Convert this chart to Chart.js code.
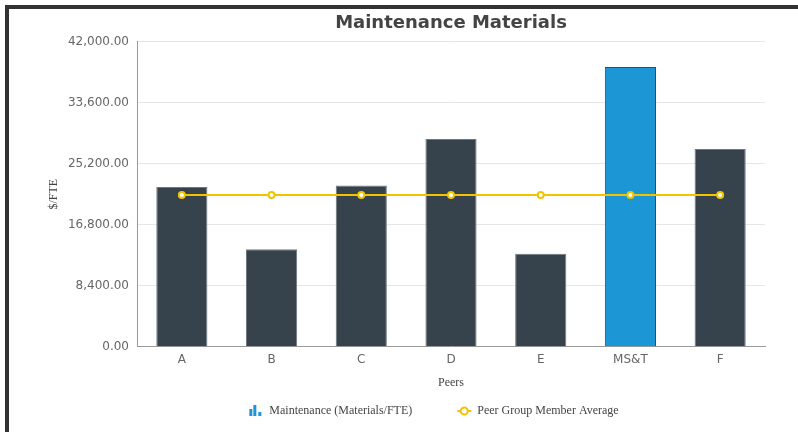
<!DOCTYPE html>
<html>
<head>
<meta charset="utf-8">
<script src="https://cdn.jsdelivr.net/npm/chart.js@4.4.0/dist/chart.umd.min.js"></script>
<style>
  html, body { margin: 0; padding: 0; background: #fff; }
  body { width: 798px; height: 432px; position: relative; overflow: hidden; }
  #moldura { position: absolute; left: 5px; top: 5px; right: 0; bottom: 0;
             border-left: 4px solid #333; border-top: 4px solid #333; }
  #grafico { position: absolute; left: 0; top: 0; }
</style>
</head>
<body>
<div id="moldura"></div>
<canvas id="grafico" width="798" height="432"></canvas>
<script>
const categorias = ['A', 'B', 'C', 'D', 'E', 'MS&T', 'F'];
const valoresManutencao = [22000, 13400, 22200, 28600, 12800, 38500, 27200];
const mediaGrupo = [20900, 20900, 20900, 20900, 20900, 20900, 20900];
const ticksY = [0, 8400, 16800, 25200, 33600, 42000];

const AZUL = '#1c96d4';
const ESCURO = '#36434c';
const AMARELO = '#f2c400';

const fmt = new Intl.NumberFormat('en-US', { minimumFractionDigits: 2, maximumFractionDigits: 2 });

// legenda desenhada à mão (espaçamento igual ao original)
const legendaPersonalizada = {
  id: 'legendaPersonalizada',
  afterDraw(chart) {
    const ctx = chart.ctx;
    const y = 411;
    ctx.save();
    ctx.font = '12px "Liberation Serif", serif';
    ctx.textBaseline = 'middle';
    const itens = chart.data.datasets.map(d => ({ texto: d.label, tipo: d.type }));
    const larg = itens.map(i => 20 + ctx.measureText(i.texto).width);
    const total = larg.reduce((a, b) => a + b, 0) + 45 * (itens.length - 1);
    let x = 434 - total / 2;
    itens.forEach((it, i) => {
      if (it.tipo === 'bar') {
        ctx.fillStyle = AZUL;
        ctx.fillRect(x, y - 2, 3, 7);
        ctx.fillRect(x + 4, y - 6, 3, 11);
        ctx.fillRect(x + 9, y + 1, 3, 4);
      } else {
        ctx.strokeStyle = AMARELO;
        ctx.lineWidth = 2;
        ctx.beginPath();
        ctx.moveTo(x, y);
        ctx.lineTo(x + 14, y);
        ctx.stroke();
        ctx.beginPath();
        ctx.arc(x + 7, y, 3.5, 0, Math.PI * 2);
        ctx.fillStyle = '#fff';
        ctx.fill();
        ctx.stroke();
      }
      ctx.fillStyle = '#444';
      ctx.fillText(it.texto, x + 20, y);
      x += larg[i] + 45;
    });
    ctx.restore();
  }
};

new Chart(document.getElementById('grafico'), {
  data: {
    labels: categorias,
    datasets: [
      {
        type: 'bar',
        label: 'Maintenance (Materials/FTE)',
        data: valoresManutencao,
        backgroundColor: categorias.map(c => c === 'MS&T' ? AZUL : ESCURO),
        borderColor: categorias.map(c => c === 'MS&T' ? '#24506f' : '#6f777c'),
        borderWidth: 1,
        barPercentage: 0.57,
        categoryPercentage: 1,
        order: 1
      },
      {
        type: 'line',
        label: 'Peer Group Member Average',
        data: mediaGrupo,
        borderColor: AMARELO,
        borderWidth: 2,
        pointBackgroundColor: '#fff',
        pointBorderColor: AMARELO,
        pointBorderWidth: 2,
        pointRadius: 3,
        order: 0
      }
    ]
  },
  options: {
    responsive: false,
    animation: false,
    layout: { padding: { left: 0, right: 33, top: 0, bottom: 34 } },
    plugins: {
      legend: { display: false },
      tooltip: { enabled: false },
      title: {
        display: true,
        text: 'Maintenance Materials',
        fullSize: false,
        color: '#444',
        font: { family: '"DejaVu Sans", sans-serif', size: 18, weight: 'bold' },
        padding: { top: 13, bottom: 7 }
      }
    },
    scales: {
      x: {
        grid: { display: false, drawTicks: false },
        border: { display: true, color: '#999' },
        ticks: { color: '#666', padding: 6, font: { family: '"DejaVu Sans", sans-serif', size: 12 } },
        title: {
          display: true, text: 'Peers', color: '#444',
          font: { family: '"Liberation Serif", serif', size: 12 },
          padding: { top: 0, bottom: 8 }
        },
        afterFit(s) { s.height = 51.3; }
      },
      y: {
        min: 0,
        max: 42000,
        afterBuildTicks(s) { s.ticks = ticksY.map(v => ({ value: v })); },
        grid: { color: '#e6e6e6', drawTicks: false },
        border: { display: true, color: '#999' },
        ticks: {
          color: '#666', padding: 8,
          font: { family: '"DejaVu Sans", sans-serif', size: 12 },
          callback: v => fmt.format(v)
        },
        title: {
          display: true, text: '$/FTE', color: '#444',
          font: { family: '"Liberation Serif", serif', size: 12 },
          padding: { top: 47, bottom: 0 }
        },
        afterFit(s) { s.width = 137; }
      }
    }
  },
  plugins: [legendaPersonalizada]
});
</script>
</body>
</html>
